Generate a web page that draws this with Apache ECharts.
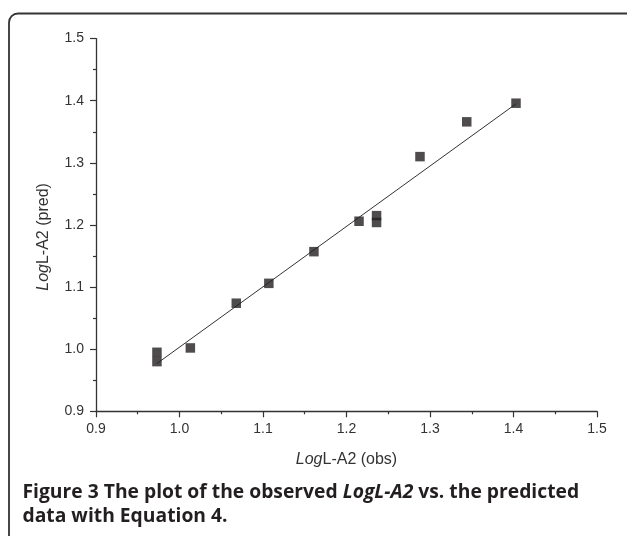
<!DOCTYPE html>
<html>
<head>
<meta charset="utf-8">
<script src="https://cdn.jsdelivr.net/npm/echarts@6/dist/echarts.min.js"></script>
<style>
  html, body { margin: 0; padding: 0; background: #fff; }
  #chart { width: 627px; height: 536px; }
</style>
</head>
<body>
<div id="chart"></div>
<script>
const obsX  = [0.973, 0.973, 1.013, 1.068, 1.107, 1.161, 1.215, 1.236, 1.236, 1.288, 1.344, 1.403];
const predY = [0.995, 0.980, 1.002, 1.074, 1.106, 1.157, 1.206, 1.215, 1.204, 1.310, 1.366, 1.396];

// recta de ajuste (extremos)
const fitX = [0.973, 1.403];
const fitY = [0.977, 1.395];

const xTicks = [0.9, 1.5];   // min / max de ambos ejes
const yTicks = [0.9, 1.5];

const INK = "#231f20";
const AXIS = "#333";

const chart = echarts.init(document.getElementById("chart"));

const richNombre = {
  it: { fontStyle: "italic", fontSize: 16, color: "#333", fontFamily: "Liberation Sans" },
  n:  { fontSize: 16, color: "#333", fontFamily: "Liberation Sans" }
};

const ejeComun = {
  type: "value",
  interval: 0.1,
  axisLine: { show: true, lineStyle: { color: AXIS, width: 1.3 } },
  axisTick: { show: true, inside: false, length: 6, lineStyle: { color: AXIS, width: 1.2 } },
  minorTick: { show: true, splitNumber: 2, length: 3, lineStyle: { color: AXIS, width: 1.2 } },
  splitLine: { show: false },
  axisLabel: {
    color: "#333", fontSize: 14, fontFamily: "Liberation Sans",
    formatter: v => v.toFixed(1)
  },
  nameLocation: "middle"
};

chart.setOption({
  animation: false,
  backgroundColor: "#fff",
  grid: { left: 96, right: 30, top: 38.6, bottom: 124.7, containLabel: false },
  xAxis: Object.assign({}, ejeComun, {
    min: xTicks[0], max: xTicks[1],
    axisLabel: Object.assign({}, ejeComun.axisLabel, { margin: 11 }),
    name: "{it|Log}{n|L-A2 (obs)}",
    nameGap: 40,
    nameTextStyle: { color: "#333", fontSize: 16, fontFamily: "Liberation Sans", rich: richNombre }
  }),
  yAxis: Object.assign({}, ejeComun, {
    min: yTicks[0], max: yTicks[1],
    axisLabel: Object.assign({}, ejeComun.axisLabel, { margin: 12 }),
    name: "{it|Log}{n|L-A2 (pred)}",
    nameGap: 44,
    nameTextStyle: { color: "#333", fontSize: 16, fontFamily: "Liberation Sans", rich: richNombre, padding: [0, 24, 0, 0] }
  }),
  series: [
    {
      name: "ajuste",
      type: "line",
      data: fitX.map((x, i) => [x, fitY[i]]),
      symbol: "none",
      lineStyle: { color: "#333", width: 1 },
      z: 2
    },
    {
      name: "datos",
      type: "scatter",
      data: obsX.map((x, i) => [x, predY[i]]),
      symbol: "rect",
      symbolSize: 9.5,
      itemStyle: { color: INK },
      z: 3
    }
  ],
  graphic: [
    {
      type: "rect",
      shape: { x: 9, y: 13.5, width: 640, height: 560, r: 9 },
      style: { fill: "none", stroke: "#333", lineWidth: 1.8 },
      silent: true
    },
    {
      type: "text",
      x: 22.5, y: 493,
      style: {
        text: "{s|Figure 3 The plot of the observed }{i|LogL-A2}{s| vs. the predicted}",
        verticalAlign: "middle",
        rich: {
          s: { fontFamily: "Open Sans", fontWeight: "bold", fontSize: 19.3, fill: INK },
          i: { fontFamily: "Open Sans", fontWeight: "bold", fontStyle: "italic", fontSize: 19.3, fill: INK }
        }
      }
    },
    {
      type: "text",
      x: 22.5, y: 517,
      style: {
        text: "data with Equation 4.",
        verticalAlign: "middle",
        fontFamily: "Open Sans", fontWeight: "bold", fontSize: 19.3, fill: INK
      }
    }
  ]
});
</script>
</body>
</html>
